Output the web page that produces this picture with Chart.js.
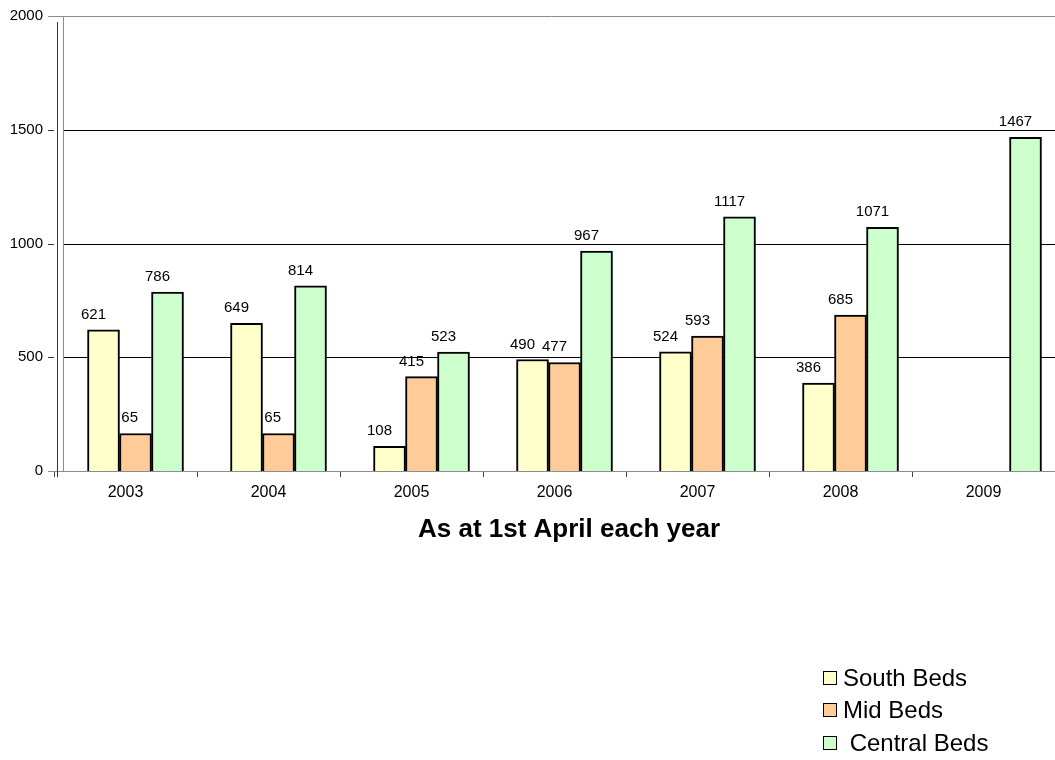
<!DOCTYPE html>
<html><head><meta charset="utf-8">
<script src="https://cdn.jsdelivr.net/npm/chart.js@4.4.1/dist/chart.umd.min.js"></script>
<style>html,body{margin:0;padding:0;background:#fff;overflow:hidden}#wrap{position:relative;width:1055px;height:760px}</style>
</head><body><div id="wrap"><canvas id="c" width="1055" height="760"></canvas></div>
<script>
// ---- data ----
const years = ['2003','2004','2005','2006','2007','2008','2009'];
const southBeds = [621, 649, 108, 490, 524, 386, null];
const midBeds = [165, 165, 415, 477, 593, 685, null];          // bar heights as drawn
const midBedsLabels = ['65', '65', '415', '477', '593', '685', '']; // printed labels
const centralBeds = [786, 814, 523, 967, 1117, 1071, 1467];
const yTicks = [0, 500, 1000, 1500, 2000];
const seriesNames = ['South Beds', 'Mid Beds', ' Central Beds'];
const seriesColors = ['#FFFFCC', '#FFCC99', '#CCFFCC'];
const axisTitle = 'As at 1st April each year';

const FONT = "'Liberation Sans', Arial, sans-serif";
const toPoints = arr => arr.map((v, i) => ({x: i, y: v}));
const toLabels = arr => arr.map(v => v == null ? '' : String(v));
const seriesValues = [southBeds, midBeds, centralBeds];
const seriesLabels = [toLabels(southBeds), midBedsLabels, toLabels(centralBeds)];
const GROUP_SHIFT = 0.07;

const decor = {
  id: 'decor',
  beforeDatasetsDraw(chart) {
    const {ctx, chartArea: a, scales: {y}} = chart;
    const plotLeft = a.left + 9;
    ctx.save();
    ctx.lineWidth = 1;
    yTicks.forEach(v => {
      const py = Math.round(y.getPixelForValue(v)) + 0.5;
      if (v === 0) return;
      ctx.beginPath();
      if (v === yTicks[yTicks.length - 1]) {
        ctx.strokeStyle = '#8c8c8c';
        ctx.moveTo(a.left - 6, py); ctx.lineTo(a.right, py);
      } else {
        ctx.strokeStyle = '#000';
        ctx.moveTo(plotLeft, py); ctx.lineTo(a.right, py);
        ctx.stroke();
        ctx.beginPath();
        ctx.strokeStyle = '#333';
        ctx.moveTo(a.left - 6, py); ctx.lineTo(a.left, py);
      }
      ctx.stroke();
    });
    // plot left border
    ctx.strokeStyle = '#8c8c8c';
    ctx.beginPath();
    ctx.moveTo(plotLeft + 0.5, a.top); ctx.lineTo(plotLeft + 0.5, a.bottom);
    ctx.stroke();
    // bottom axis line
    const by = Math.round(a.bottom) + 0.5;
    ctx.beginPath();
    ctx.moveTo(a.left - 6, by); ctx.lineTo(a.right, by);
    ctx.stroke();
    // offset value-axis line
    ctx.strokeStyle = '#333';
    ctx.beginPath();
    ctx.moveTo(a.left + 3.5, a.top + 6); ctx.lineTo(a.left + 3.5, a.bottom + 6);
    ctx.stroke();
    ctx.restore();
  },
  afterDatasetsDraw(chart) {
    const {ctx, scales: {x, xb}} = chart;
    ctx.save();
    ctx.font = '15px ' + FONT;
    ctx.fillStyle = '#000';
    ctx.textBaseline = 'alphabetic';
    const w3 = ctx.measureText('000').width;
    chart.data.datasets.forEach((ds, di) => {
      const meta = chart.getDatasetMeta(di);
      meta.data.forEach((el, i) => {
        const txt = seriesLabels[di][i];
        if (!txt || seriesValues[di][i] == null) return;
        const shift = xb.getPixelForValue(i) - x.getPixelForValue(i);
        const cx = el.x - shift;
        if (txt.length < 3) { ctx.textAlign = 'right'; ctx.fillText(txt, cx + w3 / 2, el.y - 11); }
        else { ctx.textAlign = 'center'; ctx.fillText(txt, cx, el.y - 11); }
      });
    });
    ctx.restore();
  },
  afterDraw(chart) {
    const {ctx} = chart;
    ctx.save();
    ctx.fillStyle = '#000';
    ctx.font = 'bold 26px ' + FONT;
    ctx.textAlign = 'center';
    ctx.textBaseline = 'alphabetic';
    ctx.fillText(axisTitle, 569, 537);
    // legend
    ctx.font = '24px ' + FONT;
    ctx.textAlign = 'left';
    chart.data.datasets.forEach((ds, i) => {
      const base = 686 + i * 32.3;
      const by = Math.round(base - 15);
      ctx.fillStyle = ds.backgroundColor;
      ctx.fillRect(823, by, 14, 14);
      ctx.strokeStyle = '#000';
      ctx.lineWidth = 1;
      ctx.strokeRect(823.5, by + 0.5, 13, 13);
      ctx.fillStyle = '#000';
      ctx.fillText(ds.label, 843, base);
    });
    ctx.restore();
  }
};

new Chart(document.getElementById('c'), {
  type: 'bar',
  data: {
    labels: years,
    datasets: seriesValues.map((vals, i) => ({
      label: seriesNames[i],
      data: toPoints(vals),
      xAxisID: 'xb',
      yAxisID: 'y',
      backgroundColor: seriesColors[i],
      borderColor: '#000',
      borderWidth: 2,
      barThickness: 32,
      grouped: true
    }))
  },
  options: {
    responsive: false,
    animation: false,
    devicePixelRatio: 1,
    layout: {padding: {top: 16, left: 0, right: 0, bottom: 0}},
    plugins: {legend: {display: false}, tooltip: {enabled: false}, title: {display: false}},
    scales: {
      x: {
        type: 'category', axis: 'x', position: 'bottom', offset: true,
        grid: {display: true, drawOnChartArea: false, drawTicks: true, tickLength: 6, offset: true, color: '#444', lineWidth: 1},
        border: {display: false},
        ticks: {font: {family: FONT, size: 16}, color: '#000', padding: 6, maxRotation: 0, autoSkip: false},
        afterFit(s) { s.height = 289; }
      },
      xb: {
        type: 'linear', axis: 'x', position: 'bottom', display: false, offset: false,
        grid: {offset: false},
        min: -0.5 - GROUP_SHIFT, max: years.length - 0.5 - GROUP_SHIFT
      },
      y: {
        type: 'linear', position: 'left', min: 0, max: 2000,
        grid: {display: false, drawTicks: false},
        border: {display: false},
        ticks: {stepSize: 500, font: {family: FONT, size: 15}, color: '#000', padding: 11,
          callback: v => String(v)},
        afterFit(s) { s.width = 54; s.paddingTop = 0; s.paddingBottom = 0; }
      }
    }
  },
  plugins: [decor]
});
</script>
</body></html>
